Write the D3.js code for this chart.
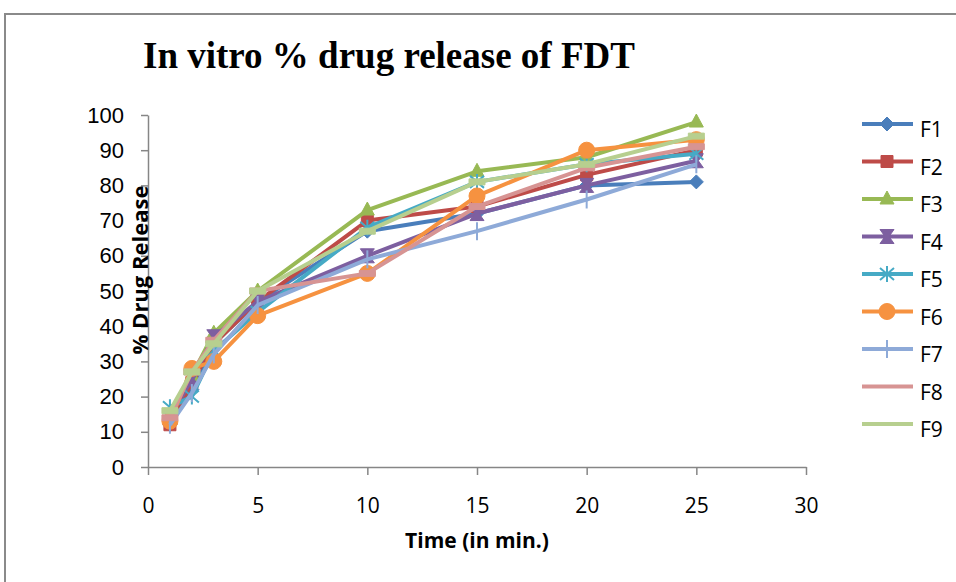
<!DOCTYPE html>
<html>
<head>
<meta charset="utf-8">
<script src="https://cdn.jsdelivr.net/npm/d3@7"></script>
<style>
body { margin: 0; background: #fff; }
svg { display: block; }
</style>
</head>
<body>
<svg id="chart" width="956" height="582"></svg>
<script>
// time points (min)
var times = [1, 2, 3, 5, 10, 15, 20, 25];
var series_names = ["F1", "F2", "F3", "F4", "F5", "F6", "F7", "F8", "F9"];
// % drug release
var F1 = [12, 22, 35, 47, 67, 72, 80, 81];
var F2 = [12, 24, 35, 47, 70, 74, 83, 90];
var F3 = [15, 26, 38, 50, 73, 84, 88, 98];
var F4 = [14, 25, 37, 47, 60, 72, 80, 87];
var F5 = [17, 20, 33, 44, 68, 81, 86, 89];
var F6 = [13, 28, 30, 43, 55, 77, 90, 93];
var F7 = [12, 21, 32, 46, 59, 67, 76, 86];
var F8 = [14, 27, 36, 50, 55, 74, 85, 91];
var F9 = [16, 27, 35, 50, 67, 81, 86, 94];
var series_values = [F1, F2, F3, F4, F5, F6, F7, F8, F9];
var x_ticks = [0, 5, 10, 15, 20, 25, 30];
var y_ticks = [0, 10, 20, 30, 40, 50, 60, 70, 80, 90, 100];

const COLORS = ['#4a7ebb', '#be4b48', '#98b954', '#7d5fa0', '#46aac5', '#f69240', '#8eaad8', '#d79493', '#b7cf8f'];
const MARKERS = ['diamond', 'square', 'triangle', 'x', 'asterisk', 'circle', 'plus', 'dash', 'dash'];
const AXIS_COLOR = '#868686';

var svg = d3.select("#chart");

// outer frame
svg.append("path")
    .attr("d", "M5,582 L5,14 L956,14")
    .attr("fill", "none")
    .attr("stroke", "#8a8a8a")
    .attr("stroke-width", 2);

var x = d3.scaleLinear().domain([0, 30]).range([148, 806]);
var y = d3.scaleLinear().domain([0, 100]).range([467, 115]);

// title
svg.append("text")
    .attr("x", 143)
    .attr("y", 68)
    .attr("font-family", "Liberation Serif, serif")
    .attr("font-weight", "bold")
    .attr("font-size", 37)
    .text("In vitro % drug release of FDT");

// axes
var xAxis = svg.append("g")
    .attr("transform", "translate(0," + y(0) + ")")
    .call(d3.axisBottom(x).tickValues(x_ticks).tickSize(8).tickSizeOuter(0).tickPadding(23));
xAxis.selectAll("text")
    .attr("font-family", "Open Sans, sans-serif")
    .attr("font-size", 21)
    .attr("fill", "#000");

var yAxis = svg.append("g")
    .attr("transform", "translate(" + x(0) + ",0)")
    .call(d3.axisLeft(y).tickValues(y_ticks).tickSize(7).tickSizeOuter(0).tickPadding(17));
yAxis.selectAll("text")
    .attr("font-family", "Liberation Sans, Arial, sans-serif")
    .attr("font-size", 22)
    .attr("fill", "#000");

svg.selectAll(".domain, .tick line")
    .attr("stroke", AXIS_COLOR)
    .attr("stroke-width", 1.5);

// axis titles
svg.append("text")
    .attr("x", 477)
    .attr("y", 548)
    .attr("text-anchor", "middle")
    .attr("font-family", "Open Sans, sans-serif")
    .attr("font-weight", "bold")
    .attr("font-size", 21)
    .text("Time (in min.)");

svg.append("text")
    .attr("transform", "translate(148,270) rotate(-90)")
    .attr("text-anchor", "middle")
    .attr("font-family", "Open Sans, sans-serif")
    .attr("font-weight", "bold")
    .attr("font-size", 22)
    .text("% Drug Release");

function marker_path(kind){
    // returns a path string centred on 0,0
    switch(kind){
        case 'diamond': return "M0,-7 L7,0 L0,7 L-7,0 Z";
        case 'square': return "M-6,-6 L6,-6 L6,6 L-6,6 Z";
        case 'triangle': return "M0,-8 L7,5 L-7,5 Z";
        case 'x': return "M-7,-7 L7,-7 L2,0 L7,7 L-7,7 L-2,0 Z";
        case 'asterisk': return "M-7,-6 L7,6 M-7,6 L7,-6 M0,-8 L0,8";
        case 'circle': return "M-8,0 A8,8 0 1,0 8,0 A8,8 0 1,0 -8,0 Z";
        case 'plus': return "M0,-9 L0,9";
        case 'dash': return "M-8,-3 L8,-3 L8,3 L-8,3 Z";
    }
    return "";
}

function is_stroked(kind){
    return kind === 'asterisk' || kind === 'plus';
}

var line = d3.line()
    .x(function(d, i){ return x(times[i]); })
    .y(function(d){ return y(d); });

var plot = svg.append("g");

for(var s = 0; s < series_values.length; s++){
    var g = plot.append("g");
    g.append("path")
        .datum(series_values[s])
        .attr("d", line)
        .attr("fill", "none")
        .attr("stroke", COLORS[s])
        .attr("stroke-width", 4)
        .attr("stroke-linejoin", "round");

    var kind = MARKERS[s];
    g.selectAll(".mk")
        .data(series_values[s])
        .enter()
        .append("path")
        .attr("transform", function(d, i){ return "translate(" + x(times[i]) + "," + y(d) + ")"; })
        .attr("d", marker_path(kind))
        .attr("fill", is_stroked(kind) ? "none" : COLORS[s])
        .attr("stroke", COLORS[s])
        .attr("stroke-width", is_stroked(kind) ? 2 : 1);
}

// legend
var legend = svg.append("g");
for(var j = 0; j < series_names.length; j++){
    var ly = 124 + j * 37.5;
    var row = legend.append("g").attr("transform", "translate(0," + ly + ")");
    row.append("line")
        .attr("x1", 862).attr("x2", 913)
        .attr("y1", 0).attr("y2", 0)
        .attr("stroke", COLORS[j])
        .attr("stroke-width", 4);
    var k = MARKERS[j];
    if(k !== 'dash'){
        row.append("path")
            .attr("transform", "translate(887,0)")
            .attr("d", marker_path(k))
            .attr("fill", is_stroked(k) ? "none" : COLORS[j])
            .attr("stroke", COLORS[j])
            .attr("stroke-width", is_stroked(k) ? 2 : 1);
    }
    row.append("text")
        .attr("x", 920)
        .attr("y", 13)
        .attr("font-family", "Open Sans, sans-serif")
        .attr("font-size", 21)
        .text(series_names[j]);
}
</script>
</body>
</html>
